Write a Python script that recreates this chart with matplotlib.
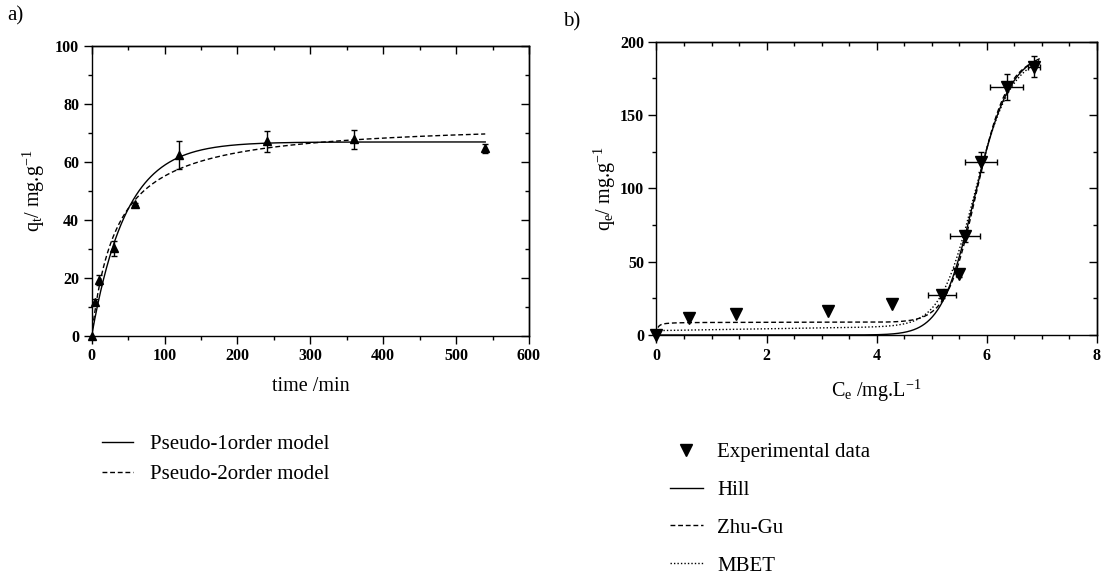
import numpy as np
import matplotlib.pyplot as plt
from matplotlib.lines import Line2D

plt.rcParams['font.family'] = ['Liberation Serif', 'DejaVu Serif']
plt.rcParams['mathtext.fontset'] = 'custom'
plt.rcParams['mathtext.rm'] = 'Liberation Serif'
plt.rcParams['mathtext.it'] = 'Liberation Serif:italic'
plt.rcParams['axes.linewidth'] = 1.0

# kinetics: contact time (min) vs uptake (mg/g)
t_exp = [0, 5, 10, 30, 60, 120, 240, 360, 540]
qt_exp = [0, 11.7, 19.3, 30.1, 45.4, 62.3, 67.1, 67.7, 64.6]
qt_err = [0, 1.0, 1.7, 2.6, 0.5, 4.8, 3.6, 3.3, 1.6]

# fitted kinetic parameters
pfo_qe, pfo_k1 = 66.8, 0.0212
pso_qe, pso_k2 = 74.0, 0.000392

# isotherm: equilibrium concentration (mg/L) vs uptake (mg/g)
ce_exp = [0, 0.59, 1.45, 3.12, 4.27, 5.19, 5.49, 5.61, 5.90, 6.36, 6.85]
qe_exp = [0, 11.8, 14.1, 16.4, 21.4, 27.1, 41.5, 67.2, 118.2, 169.0, 183.0]
ce_err = [0, 0, 0, 0, 0, 0.25, 0.05, 0.27, 0.29, 0.30, 0.11]
qe_err = [0, 0, 0, 0, 0, 2.0, 2.0, 4.0, 6.8, 8.7, 7.0]

# fitted isotherm parameters
hill_qmax, hill_k, hill_n = 195.0, 5.8, 18.4
zg_qinf, zg_k1, zg_n, zg_c = 192.0, 50.0, 22.0, 5.8
mbet_a, mbet_b, mbet_qmax, mbet_k, mbet_n = 3.0, 0.6, 193.0, 5.8, 18.0

tick_font = {'family': 'Liberation Serif', 'weight': 'bold', 'size': 11.5}


def style_axes(ax, xmaj, xmin, ymaj, ymin):
    ax.set_xticks(xmaj)
    ax.set_xticks(xmin, minor=True)
    ax.set_yticks(ymaj)
    ax.set_yticks(ymin, minor=True)
    ax.tick_params(which='major', direction='out', length=6, width=1,
                   top=False, right=False, pad=3)
    ax.tick_params(which='minor', direction='out', length=3, width=1,
                   top=False, right=False)
    for lab in ax.get_xticklabels() + ax.get_yticklabels():
        lab.set_fontproperties(tick_font)
    top = ax.secondary_xaxis('top')
    top.set_xticks(xmaj)
    top.set_xticks(xmin, minor=True)
    top.tick_params(which='major', direction='in', length=6, width=1, labeltop=False)
    top.tick_params(which='minor', direction='in', length=3, width=1)
    right = ax.secondary_yaxis('right')
    right.set_yticks(ymaj)
    right.set_yticks(ymin, minor=True)
    right.tick_params(which='major', direction='in', length=6, width=1, labelright=False)
    right.tick_params(which='minor', direction='in', length=3, width=1)


fig = plt.figure(figsize=(11.02, 5.76), dpi=100)

# ---- a) kinetics ----
ax1 = fig.add_axes([0.0832, 0.4172, 0.3968, 0.5035])
t = np.linspace(0, 540, 400)
q_pfo = pfo_qe * (1 - np.exp(-pfo_k1 * t))
q_pso = pso_qe ** 2 * pso_k2 * t / (1 + pso_qe * pso_k2 * t)
ax1.plot(t, q_pfo, color='black', lw=1.0, ls='-')
ax1.plot(t, q_pso, color='black', lw=1.0, ls=(0, (3.5, 2)))
ax1.plot(t_exp, qt_exp, ls='none', marker='^', ms=6, color='black', clip_on=False)
m = np.array(qt_err) > 0
ax1.errorbar(np.array(t_exp)[m], np.array(qt_exp)[m], yerr=np.array(qt_err)[m],
             fmt='none', ecolor='black', elinewidth=1, capsize=2.5, capthick=1)
ax1.set_xlim(0, 600)
ax1.set_ylim(0, 100)
style_axes(ax1, np.arange(0, 601, 100), np.arange(50, 600, 100),
           np.arange(0, 101, 20), np.arange(10, 100, 20))
ax1.set_xlabel('time /min', fontsize=14.5, labelpad=9)
ax1.set_ylabel(r'q$_\mathrm{t}$/ mg.g$^{\mathrm{-1}}$', fontsize=14.5, labelpad=6)

# ---- b) isotherm ----
ax2 = fig.add_axes([0.5957, 0.4184, 0.3997, 0.5092])
c = np.linspace(0, 6.95, 600)
q_hill = hill_qmax * c ** hill_n / (hill_k ** hill_n + c ** hill_n)
zg_x = (c / zg_c) ** (zg_n - 1) * 0.9
q_zg = zg_qinf * zg_k1 * c * (1 / zg_n + zg_x) / (1 + zg_k1 * c * (1 + zg_x))
h = (c / mbet_k) ** mbet_n
h = h / (1 + h)
q_mbet = (mbet_a + mbet_b * c) * (1 - h) + mbet_qmax * h
ax2.plot(c, q_hill, color='black', lw=1.0, ls='-')
ax2.plot(c, q_zg, color='black', lw=1.0, ls=(0, (3.5, 2)))
ax2.plot(c, q_mbet, color='black', lw=1.0, ls=(0, (1, 1.5)))
ax2.plot(ce_exp, qe_exp, ls='none', marker='v', ms=8, color='black', clip_on=False)
m2 = (np.array(qe_err) > 0) | (np.array(ce_err) > 0)
ax2.errorbar(np.array(ce_exp)[m2], np.array(qe_exp)[m2],
             xerr=np.array(ce_err)[m2], yerr=np.array(qe_err)[m2],
             fmt='none', ecolor='black', elinewidth=1, capsize=2.5, capthick=1)
ax2.set_xlim(0, 8)
ax2.set_ylim(0, 200)
style_axes(ax2, np.arange(0, 9, 2), np.arange(0.5, 8, 0.5),
           np.arange(0, 201, 50), np.arange(25, 200, 50))
ax2.set_xlabel(r'C$_\mathrm{e}$ /mg.L$^{\mathrm{-1}}$', fontsize=14.5, labelpad=10)
ax2.set_ylabel(r'q$_\mathrm{e}$/ mg.g$^{\mathrm{-1}}$', fontsize=14.5, labelpad=1)

fig.text(0.007, 0.972, 'a)', fontsize=15, va='center', ha='left')
fig.text(0.511, 0.962, 'b)', fontsize=15, va='center', ha='left')

# legends
h1 = [Line2D([], [], color='black', lw=1.0, ls='-'),
      Line2D([], [], color='black', lw=1.0, ls=(0, (3.5, 2)))]
fig.legend(h1, ['Pseudo-1order model', 'Pseudo-2order model'],
           loc='upper left', bbox_to_anchor=(0.0925, 0.245), frameon=False,
           fontsize=15, handlelength=1.5, handletextpad=0.8, labelspacing=0.49,
           borderpad=0, borderaxespad=0)

h2 = [Line2D([], [], color='black', ls='none', marker='v', ms=8),
      Line2D([], [], color='black', lw=1.0, ls='-'),
      Line2D([], [], color='black', lw=1.0, ls=(0, (3.5, 2))),
      Line2D([], [], color='black', lw=1.0, ls=(0, (1, 1.5)))]
fig.legend(h2, ['Experimental data', 'Hill', 'Zhu-Gu', 'MBET'],
           loc='upper left', bbox_to_anchor=(0.6076, 0.232), frameon=False,
           fontsize=15, handlelength=1.6, handletextpad=0.7, labelspacing=0.88,
           borderpad=0, borderaxespad=0, numpoints=1)

fig.savefig('out.png', dpi=100)
